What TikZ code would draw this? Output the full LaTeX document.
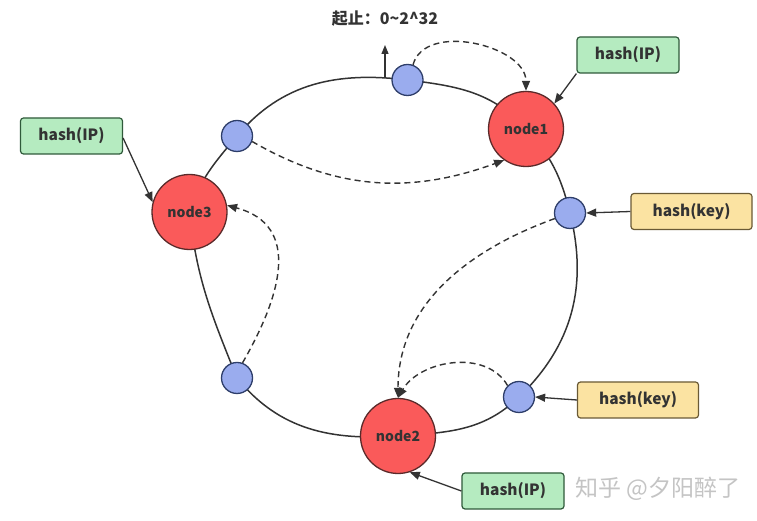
\documentclass[tikz,border=0pt]{standalone}
\usepackage{fontspec}
\setmainfont{Noto Sans CJK SC}
\usetikzlibrary{arrows.meta,backgrounds,calc}
\definecolor{redfill}{HTML}{FA5A5A}
\definecolor{redline}{HTML}{5A2A2A}
\definecolor{bluefill}{HTML}{9AACEE}
\definecolor{blueline}{HTML}{2E3E6A}
\definecolor{greenfill}{HTML}{B5EBC0}
\definecolor{greenline}{HTML}{2F5A3A}
\definecolor{yellowfill}{HTML}{FBE3A2}
\definecolor{yellowline}{HTML}{6A5A35}
\definecolor{txt}{HTML}{333333}
\definecolor{wm}{HTML}{C4C4C4}
\begin{document}
\begin{tikzpicture}[x=1pt,y=1pt,
  servernode/.style={circle,draw=redline,fill=redfill,line width=1.3pt,minimum size=75pt,inner sep=0pt,
    font=\bfseries\fontsize{14}{14}\selectfont,text=txt},
  keynode/.style={circle,draw=blueline,fill=bluefill,line width=1.3pt,minimum size=31pt,inner sep=0pt},
  ipbox/.style={draw=greenline,fill=greenfill,rounded corners=3pt,line width=1.2pt,minimum width=102pt,minimum height=36pt,
    inner sep=0pt,font=\bfseries\fontsize{15.5}{15.5}\selectfont,text=txt},
  keybox/.style={draw=yellowline,fill=yellowfill,rounded corners=3pt,line width=1.2pt,minimum width=121pt,minimum height=36pt,
    inner sep=0pt,font=\bfseries\fontsize{15.5}{15.5}\selectfont,text=txt},
  solidarrow/.style={draw=txt,line width=1.3pt,-{Triangle[length=10pt,width=8pt]}},
  dasharrow/.style={draw=txt,line width=1.4pt,dash pattern=on 6pt off 4pt,-{Triangle[length=10pt,width=8pt]}},
  ringline/.style={draw=txt,line width=1.5pt}
]
\useasboundingbox (0,0) rectangle (757,521);

% ring members
\node[keynode] (tb) at (407.5,441) {};
\node[servernode] (n1) at (526,392) {node1};
\node[keynode] (rb) at (570,308) {};
\node[keynode] (lrb) at (519,124) {};
\node[servernode] (n2) at (398,85) {node2};
\node[keynode] (llb) at (237,143) {};
\node[servernode] (n3) at (189.5,309) {node3};
\node[keynode] (ulb) at (237,385) {};

\begin{scope}[on background layer]
  \fill[white] (0,0) rectangle (757,521);
  \draw[ringline] (tb.center) to[out=-7,in=132] (n1.center)
                  (n1.center) to[out=-47,in=104] (rb.center)
                  (rb.center) to[out=-76,in=44] (lrb.center)
                  (lrb.center) to[out=-136,in=4] (n2.center)
                  (n2.center) to[out=-176,in=-51] (llb.center)
                  (llb.center) to[out=112,in=-84] (n3.center)
                  (n3.center) to[out=72,in=-130] (ulb.center)
                  (ulb.center) to[out=50,in=173] (tb.center);
\end{scope}

% boxes
\node[ipbox] (ip1) at (628,466) {hash(IP)};
\node[ipbox] (ip3) at (71.5,385) {hash(IP)};
\node[ipbox] (ip2) at (513,30) {hash(IP)};
\node[keybox] (k1) at (691.5,309.5) {hash(key)};
\node[keybox] (k2) at (638,121) {hash(key)};

\draw[solidarrow] (ip1.south west) -- (n1.42);
\draw[solidarrow] ($(ip3.east)+(0,-2)$) -- (n3.165);
\draw[solidarrow] (ip2.west) -- (n2.-72);
\draw[solidarrow] (k1.west) -- (rb.east);
\draw[solidarrow] (k2.west) -- (lrb.east);

% dashed moves
\draw[dasharrow] (tb.70) to[out=75,in=90] (n1.north);
\draw[dasharrow] (ulb.-20) to[out=-30,in=200] (n1.-125);
\draw[dasharrow] (llb.70) to[out=60,in=-15,looseness=1.25] (n3.10);
\draw[dasharrow] (rb.200) to[out=200,in=90] (n2.north);
\draw[dasharrow] (lrb.135) to[out=120,in=60] (n2.north);

% origin marker
\coordinate (origin) at (385,443.5);
\node[font=\bfseries\fontsize{16}{16}\selectfont,text=txt] (lbl) at (385,502) {起止：0\textasciitilde2\textasciicircum32};
\draw[solidarrow,line width=1.2pt,-{Triangle[length=9pt,width=7pt]}] (origin) -- (385,476);

% watermark
\node[font=\fontsize{23}{23}\selectfont,text=wm,anchor=west,inner sep=0pt] (wmark) at (575,32) {知乎 @夕阳醉了};
\end{tikzpicture}
\end{document}
